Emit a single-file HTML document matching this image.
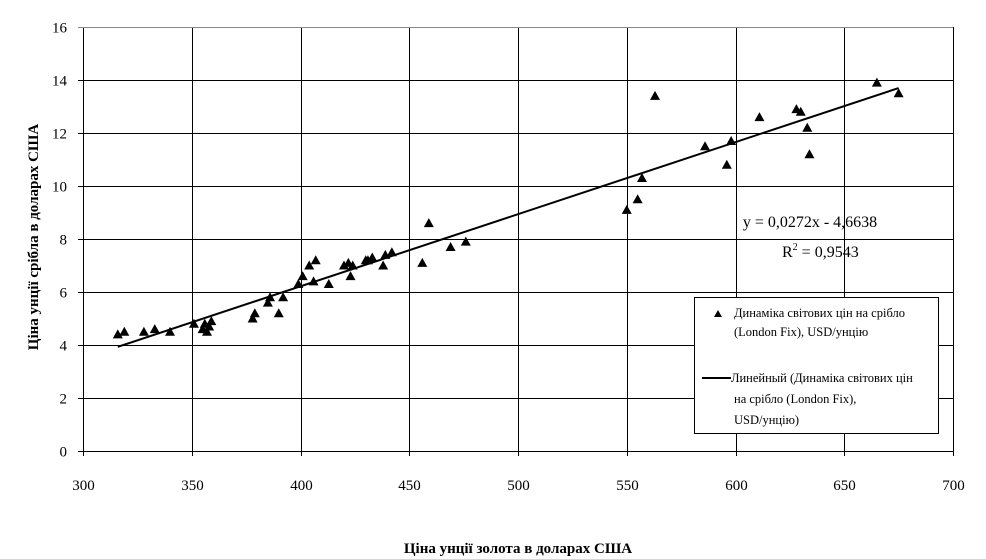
<!DOCTYPE html>
<html><head><meta charset="utf-8">
<style>
html,body{margin:0;padding:0;background:#fff;}
svg{display:block;font-family:"Liberation Serif",serif;}
</style></head>
<body>
<svg id="chart" width="986" height="559" viewBox="0 0 986 559">
<g id="grid"></g>
<g id="axes"></g>
<g id="marks"></g>
<text x="518" y="553" text-anchor="middle" font-size="15" font-weight="bold">Ціна унції золота в доларах США</text>
<text transform="translate(38,237) rotate(-90)" text-anchor="middle" font-size="15" font-weight="bold">Ціна унції срібла в доларах США</text>
<text x="810" y="227" text-anchor="middle" font-size="16">y = 0,0272x - 4,6638</text>
<text x="782" y="257" font-size="16">R<tspan font-size="10" dy="-7">2</tspan><tspan dy="7"> = 0,9543</tspan></text>
<g>
<rect x="694.5" y="297.5" width="244" height="136" fill="#fff" stroke="#000" stroke-width="1"/>
<polygon points="718,310 722,317 714,317" fill="#000"/>
<text x="734" y="317" font-size="12.5">Динаміка світових цін на срібло</text>
<text x="734" y="336" font-size="12.5">(London Fix), USD/унцію</text>
<line x1="702" y1="378" x2="731" y2="378" stroke="#000" stroke-width="2"/>
<text x="731" y="382" font-size="12.5">Линейный (Динаміка світових цін</text>
<text x="734" y="403" font-size="12.5">на срібло (London Fix),</text>
<text x="734" y="424" font-size="12.5">USD/унцію)</text>
</g>
</svg>
<script>
const xTicks=[300,350,400,450,500,550,600,650,700];
const yTicks=[0,2,4,6,8,10,12,14,16];
const goldPrices=[316,319,328,333,340,351,355,356,357,358,359,378,379,385,386,390,392,399,401,404,406,407,413,420,422,423,424,430,431,433,438,439,442,456,459,469,476,550,555,557,563,586,596,598,611,628,630,633,634,665,675];
const silverPrices=[4.4,4.5,4.5,4.6,4.5,4.8,4.6,4.8,4.5,4.7,4.9,5.0,5.2,5.6,5.8,5.2,5.8,6.3,6.6,7.0,6.4,7.2,6.3,7.0,7.1,6.6,7.0,7.2,7.2,7.3,7.0,7.4,7.5,7.1,8.6,7.7,7.9,9.1,9.5,10.3,13.4,11.5,10.8,11.7,12.6,12.9,12.8,12.2,11.2,13.9,13.5];
const trendSlope=0.0272, trendIntercept=-4.6638;
const X0=83,X1=953,Y0=451,Y1=27;
function sx(v){return X0+(v-300)/400*(X1-X0);}
function sy(v){return Y0-(v/16)*(Y0-Y1);}
const NS="http://www.w3.org/2000/svg";
function mk(tag,attrs,parent){const e=document.createElementNS(NS,tag);for(const k in attrs)e.setAttribute(k,attrs[k]);parent.appendChild(e);return e;}
const grid=document.getElementById('grid'),axes=document.getElementById('axes'),marks=document.getElementById('marks');
xTicks.forEach(t=>{const x=Math.round(sx(t))+0.5;
 const l=mk('line',{x1:x,y1:Y1,x2:x,y2:Y0+5,stroke:'#000','stroke-width':1},grid);
 
 
 const tx=mk('text',{x:x,y:Y0+39,'text-anchor':'middle','font-size':15},axes);
 
 
 tx.textContent=t;});
yTicks.forEach(t=>{const y=Math.round(sy(t))+0.5;
 const l=mk('line',{x1:X0-5,y1:y,x2:X1,y2:y,stroke:(t===16?'#888':'#000'),'stroke-width':1},grid);
 
 
 const tx=mk('text',{x:X0-16,y:y+5,'text-anchor':'end','font-size':15},axes);
 
 
 tx.textContent=t;});
const xmin=Math.min(...goldPrices),xmax=Math.max(...goldPrices);
const tl=mk('line',{x1:sx(xmin),y1:sy(trendSlope*xmin+trendIntercept),x2:sx(xmax),y2:sy(trendSlope*xmax+trendIntercept),stroke:'#000','stroke-width':2},marks);


goldPrices.forEach((g,i)=>{const x=sx(g),y=sy(silverPrices[i]);
 const p=mk('polygon',{points:`${x},${y-5} ${x+5},${y+4} ${x-5},${y+4}`,fill:'#000'},marks);
 
 });
</script>
</body></html>
